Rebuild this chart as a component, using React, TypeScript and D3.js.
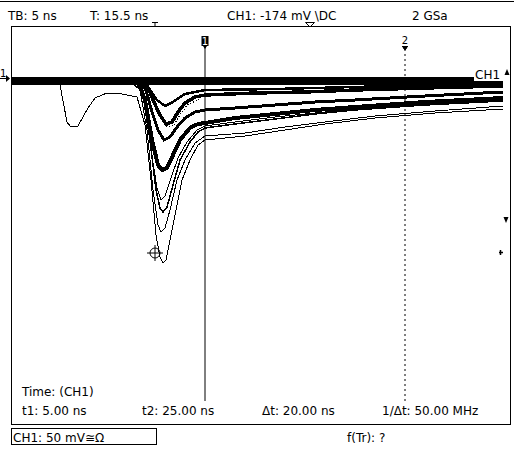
import * as d3 from "d3";

// [time in ns, level in mV]
type Pt = [number, number];

const headerLabels = ["TB: 5 ns", "T: 15.5 ns", "CH1: -174 mV \\DC", "2 GSa"];
const measureTitle = "Time: (CH1)";
const measureLabels = ["t1: 5.00 ns", "t2: 25.00 ns", "Δt: 20.00 ns", "1/Δt: 50.00 MHz"];
const footerLabels = ["CH1: 50 mV≅Ω", "f(Tr): ?"];
const cursorTimes = [5, 25];
const cursorNames = ["1", "2"];
const triggerTime = 0;
const markerPoint: Pt = [0, -173];

// baseline of the untriggered sweeps
const baselineTrace: Pt[] = [[-14.4, -1], [34.8, -1]];

const traceA: Pt[] = [
  [-10, -1], [-9.5, -5], [-8.8, -42], [-8.5, -46], [-7.7, -46], [-6.7, -28], [-6.0, -18],
  [-4.8, -13], [-3.8, -13], [-1.8, -17], [-1.0, -45], [-0.4, -100], [0.1, -155], [0.5, -177],
  [0.8, -183], [1.1, -180], [1.5, -160], [2.0, -135], [2.7, -100], [3.5, -80], [4.3, -65],
  [5, -60], [9, -56], [13, -50], [17, -44], [22, -38], [28, -33], [34.8, -29],
];
const traceB: Pt[] = [
  [-2.5, -1], [-1.5, -10], [-0.8, -50], [-0.2, -110], [0.3, -145], [0.6, -152], [1.0, -148],
  [1.5, -130], [2.2, -100], [3, -80], [4, -63], [5, -56], [9, -53], [13, -47], [17, -42],
  [22, -36], [28, -31], [34.8, -26],
];
const traceC: Pt[] = [
  [-2, -1], [-1.2, -15], [-0.5, -60], [0.1, -110], [0.5, -128], [0.8, -132], [1.2, -127],
  [1.8, -105], [2.5, -80], [3.5, -62], [4.3, -52], [5, -48], [8, -44], [12, -39], [16, -34],
  [20, -30], [27, -25], [34.8, -21],
];
const traceC2: Pt[] = [
  [-2, -1], [-1.1, -18], [-0.4, -70], [0.2, -108], [0.6, -120], [1.0, -116], [1.6, -98],
  [2.3, -78], [3.2, -62], [4.2, -50], [5, -46], [8, -42], [12, -37], [20, -29], [27, -24],
  [34.8, -20],
];
const traceD: Pt[] = [
  [-1.7, -1], [-1, -20], [-0.3, -60], [0.3, -85], [0.7, -90], [1.2, -88], [1.8, -75],
  [2.5, -60], [3.5, -48], [4.3, -44], [5, -43], [8, -38], [12, -34], [16, -30], [20, -27],
  [27, -22], [34.8, -18],
];
const traceG: Pt[] = [
  [-1.6, -1], [-0.9, -10], [-0.3, -32], [0.3, -50], [0.9, -60], [1.5, -57], [2.2, -47],
  [3, -38], [4, -32], [5, -30], [8, -28], [12, -25], [16, -22], [20, -20], [27, -16], [34.8, -12],
];
const traceF: Pt[] = [
  [-1.5, -1], [-0.8, -5], [-0.2, -20], [0.5, -35], [1.1, -44], [1.7, -42], [2.3, -32],
  [3, -23], [4, -17], [5, -15], [10, -13], [15, -12], [20, -10], [27, -8], [34.8, -6],
];
const traceH: Pt[] = [
  [-1.3, -1], [-0.5, -15], [0.2, -30], [0.8, -42], [1.3, -47], [1.9, -45], [2.5, -35],
  [3.2, -25], [4.5, -19],
];
const traceI: Pt[] = [
  [-1.4, -1], [-0.6, -8], [0.2, -20], [1.0, -26], [1.8, -22], [3, -14], [5, -10], [12, -9],
  [20, -7], [27, -5], [34.8, -3],
];

const traces: { data: Pt[]; width: number; dash?: string }[] = [
  { data: traceA, width: 1 },
  { data: traceB, width: 1 },
  { data: traceC2, width: 1 },
  { data: traceC, width: 1.5 },
  { data: traceD, width: 4 },
  { data: traceG, width: 3 },
  { data: traceF, width: 3.5 },
  { data: traceI, width: 2.5 },
  { data: traceH, width: 1.5, dash: "1,2" },
];

const W = 514;
const H = 453;
const box = { left: 11, right: 511, top: 26, bottom: 424 };

export default function App() {
  const x = d3.scaleLinear().domain([-14.4, 35.6]).range([box.left, box.right]);
  const y = d3.scaleLinear().domain([54, -344]).range([box.top, box.bottom]);
  const line = d3
    .line<Pt>()
    .x((d) => x(d[0]))
    .y((d) => y(d[1]));

  const font = { fontFamily: "DejaVu Sans", fontSize: 12, fill: "#000" } as const;
  const headerX = [8, 90, 227, 412];
  const measureX = [22, 142, 262, 382];
  const c1 = x(cursorTimes[0]);
  const c2 = x(cursorTimes[1]);
  const tx = x(triggerTime);
  const mx = x(markerPoint[0]);
  const my = y(markerPoint[1]);
  const ground = y(0) - 2;

  return (
    <div style={{ position: "absolute", left: 0, top: 0 }}>
      <svg width={W} height={H} style={{ display: "block", background: "#fff" }}>
        <line x1={0} x2={W} y1={1.5} y2={1.5} stroke="#000" />
        {headerLabels.map((t, i) => (
          <text key={t} x={headerX[i]} y={20} {...font}>
            {t}
          </text>
        ))}
        {/* trigger position and offset markers */}
        <path d={`M${tx - 3},22.5H${tx + 3}M${tx},22.5V26`} stroke="#000" />
        <path d="M305.5,22.5H314.5L310,27Z" fill="#fff" stroke="#000" />

        <rect
          x={box.left + 0.5}
          y={box.top + 0.5}
          width={box.right - box.left - 1}
          height={box.bottom - box.top}
          fill="none"
          stroke="#000"
        />

        {/* persistence traces */}
        <g fill="none" stroke="#000" shapeRendering="crispEdges">
          <path d={line(baselineTrace) ?? ""} strokeWidth={8} />
          {traces.map((t, i) => (
            <path key={i} d={line(t.data) ?? ""} strokeWidth={t.width} strokeDasharray={t.dash} />
          ))}
        </g>

        {/* ground marker */}
        <text x={0} y={ground - 1} {...font} fontSize={10}>
          1
        </text>
        <path d={`M0,${ground + 0.5}H7`} stroke="#000" />
        <path d={`M6,${ground - 3}L10,${ground + 0.5}L6,${ground + 4}Z`} fill="#000" />

        {/* channel label */}
        <rect x={474} y={66} width={29} height={15} fill="#fff" />
        <text x={475} y={79} {...font}>
          CH1
        </text>
        <path d="M504.5,75L507,69L509.5,75Z" fill="#000" />
        <path d="M503.5,217L508.5,217L506,223Z" fill="#000" />
        <path d="M499,252.5H503M500.5,250V255" stroke="#000" strokeWidth={1.5} />

        {/* cursor 1 */}
        <line x1={c1} x2={c1} y1={46} y2={401} stroke="#000" />
        <rect x={c1 - 3.5} y={36} width={7} height={10} fill="#000" />
        <text x={c1} y={45} textAnchor="middle" {...font} fontSize={10} fill="#fff">
          {cursorNames[0]}
        </text>
        <path d={`M${c1 - 2},46L${c1 + 2},46L${c1},49Z`} fill="#000" />

        {/* cursor 2 */}
        <line x1={c2} x2={c2} y1={49} y2={401} stroke="#000" strokeDasharray="2,3" />
        <text x={c2} y={44} textAnchor="middle" {...font} fontSize={10}>
          {cursorNames[1]}
        </text>
        <path d={`M${c2 - 3},46.5H${c2 + 3}M${c2 - 2},47.5L${c2 + 2},47.5L${c2},50Z`} stroke="#000" fill="#000" />

        {/* trigger point marker */}
        <g stroke="#000" fill="none">
          <circle cx={mx} cy={my} r={5} />
          <path d={`M${mx - 8},${my}H${mx + 8}M${mx},${my - 8}V${my + 8}`} />
        </g>

        <text x={22} y={396} {...font}>
          {measureTitle}
        </text>
        {measureLabels.map((t, i) => (
          <text key={t} x={measureX[i]} y={415} {...font}>
            {t}
          </text>
        ))}

        <rect x={11.5} y={428.5} width={145} height={16} fill="none" stroke="#000" />
        <text x={13} y={442} {...font}>
          {footerLabels[0]}
        </text>
        <text x={347} y={442} {...font}>
          {footerLabels[1]}
        </text>
      </svg>
    </div>
  );
}
